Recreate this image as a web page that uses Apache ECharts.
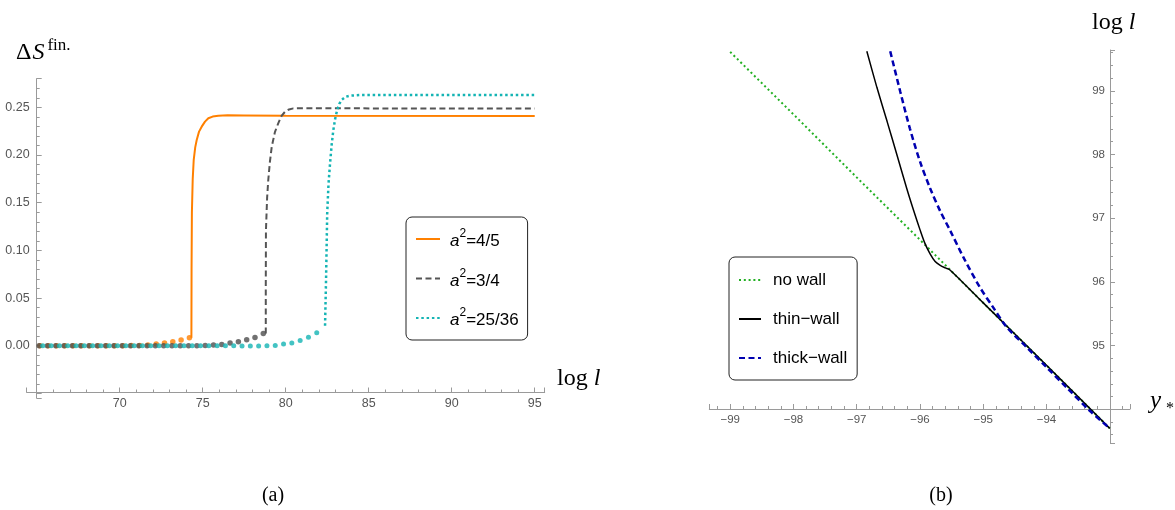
<!DOCTYPE html>
<html><head><meta charset="utf-8">
<script src="https://cdn.jsdelivr.net/npm/echarts@6/dist/echarts.min.js"></script>
<style>html,body{margin:0;padding:0;background:#fff}#c{width:1175px;height:510px}</style>
</head><body><div id="c"></div>
<script>
// ---------- Panel (a) data ----------
const orangeDots = [[65.2,0],[65.7,0],[66.2,0],[66.7,0],[67.2,0],[67.7,0],[68.2,0],[68.7,0],[69.2,0],[69.7,0],[70.2,0],[70.7,0.0002],[71.2,0.0003],[71.7,0.0007],[72.2,0.0018],[72.7,0.003],[73.2,0.0042],[73.7,0.006],[74.2,0.0084]];
const grayDots = [[65.15,0],[65.65,0],[66.15,0],[66.65,0],[67.15,0],[67.65,0],[68.15,0],[68.65,0],[69.15,0],[69.65,0],[70.15,0],[70.65,0],[71.15,0],[71.65,0],[72.15,0],[72.65,0],[73.15,0],[73.65,0],[74.15,0],[74.65,0],[75.15,0.0003],[75.65,0.0007],[76.15,0.0014],[76.65,0.0028],[77.15,0.0042],[77.65,0.0063],[78.15,0.0087],[78.65,0.0129]];
const tealDots = [[65.37,0],[65.87,0],[66.37,0],[66.87,0],[67.37,0],[67.87,0],[68.37,0],[68.87,0],[69.37,0],[69.87,0],[70.37,0],[70.87,0],[71.37,0],[71.87,0],[72.37,0],[72.87,0],[73.37,0],[73.87,0],[74.37,0],[74.87,0],[75.37,0],[75.87,0],[76.37,0],[76.87,0],[77.37,-0.0003],[77.87,-0.0003],[78.37,-0.0003],[78.87,0],[79.37,0.0003],[79.87,0.0017],[80.37,0.003],[80.87,0.0055],[81.37,0.0088],[81.87,0.0137]];
const orangeCurve = [[74.32,0.0084],[74.33,0.08],[74.35,0.14],[74.40,0.175],[74.46,0.195],[74.55,0.208],[74.64,0.2157],[74.78,0.2245],[74.94,0.2297],[75.14,0.235],[75.34,0.2385],[75.6,0.2403],[75.94,0.2412],[76.5,0.2416],[77.5,0.2415],[80,0.2411],[95,0.2409]];
const grayCurve = [[78.80,0.0129],[78.80,0.06],[78.81,0.121],[78.88,0.155],[78.95,0.1738],[79.05,0.193],[79.16,0.2087],[79.35,0.224],[79.55,0.2332],[79.75,0.241],[79.96,0.2454],[80.2,0.2478],[80.46,0.2489],[81,0.2491],[83,0.2489],[95,0.2488]];
const tealCurve = [[82.37,0.021],[82.43,0.069],[82.5,0.139],[82.58,0.17],[82.67,0.191],[82.77,0.211],[82.87,0.2262],[82.98,0.238],[83.1,0.2472],[83.23,0.2535],[83.37,0.2577],[83.6,0.261],[83.87,0.2622],[84.5,0.2629],[86,0.2629],[95,0.2628]];
const legendA = ['a2=4/5','a2=3/4','a2=25/36'];
const legendARich = {'a2=4/5':'{i|a}{s|2}{t|=4/5}','a2=3/4':'{i|a}{s|2}{t|=3/4}','a2=25/36':'{i|a}{s|2}{t|=25/36}'};

// ---------- Panel (b) data ----------
const noWall = [[-99,99.61],[-98,98.63],[-97,97.64],[-96,96.66],[-95,95.67],[-94,94.69],[-93,93.70]];
const thinWall = [[-96.84,99.62],[-96.68,99.05],[-96.52,98.52],[-96.36,97.98],[-96.21,97.47],[-96.1,97.12],[-96.0,96.82],[-95.92,96.6],[-95.84,96.44],[-95.76,96.32],[-95.68,96.26],[-95.6,96.22],[-95.53,96.19],[-95,95.67],[-94,94.69],[-93.0,93.70]];
const thickWall = [[-96.47,99.62],[-96.31,98.98],[-96.16,98.41],[-96.0,97.89],[-95.84,97.47],[-95.68,97.11],[-95.52,96.80],[-95.3,96.36],[-95.05,95.91],[-94.83,95.58],[-94.63,95.29],[-94.31,94.97],[-94.0,94.66],[-93.66,94.32],[-93.32,93.98],[-93.0,93.70]];
const legendB = ['no wall','thin\u2212wall','thick\u2212wall'];

// ---------- styling ----------
const AX = '#9a9a9a', LBL = '#555555';
const SANS = 'Liberation Sans, Arial, sans-serif';
const SERIF = 'Liberation Serif, Times New Roman, serif';
function axisCommon(extra){
  return Object.assign({
    type:'value',
    axisLine:{show:true,onZero:false,lineStyle:{color:AX,width:1}},
    axisTick:{show:true,inside:true,length:5,lineStyle:{color:AX}},
    minorTick:{show:true,splitNumber:5,length:3,lineStyle:{color:AX}},
    splitLine:{show:false},minorSplitLine:{show:false},
    showMinLabel:false, showMaxLabel:false
  }, extra);
}
const near = (v, step) => Math.abs(v/step - Math.round(v/step)) < 1e-6;
const serif = (size, italic, extra) => Object.assign({fontFamily:SERIF,fontSize:size,fontStyle:italic?'italic':'normal',fontWeight:'normal',color:'#000'}, extra||{});

const option = {
  animation:false,
  backgroundColor:'#fff',
  title:[
    {text:'{d|\u0394}{S|S}{f|fin.}', left:11, top:32, textStyle:{fontWeight:'normal',rich:{
      d:serif(24,false,{lineHeight:28,verticalAlign:'bottom'}),
      S:serif(24,true,{lineHeight:28,verticalAlign:'bottom',padding:[0,1,0,1]}),
      f:serif(17,false,{lineHeight:15,verticalAlign:'top',padding:[0,0,0,2]})}}},
    {text:'{a|log }{b|l}', left:552, top:362, textStyle:{fontWeight:'normal',rich:{a:serif(24,false), b:serif(24,true)}}},
    {text:'{a|log }{b|l}', left:1087, top:6, textStyle:{fontWeight:'normal',rich:{a:serif(24,false), b:serif(24,true)}}},
    {text:'y', left:1145, top:384, textStyle:serif(25,true)},
    {text:'*', left:1161, top:396, textStyle:serif(16,false)},
    {text:'(a)', left:268, top:481, textAlign:'center', textStyle:serif(20,false)},
    {text:'(b)', left:936, top:481, textAlign:'center', textStyle:serif(20,false)}
  ],
  grid:[
    {left:26.7, top:78.7, width:518, height:319.5},
    {left:709.3, top:50, width:420.7, height:393}
  ],
  xAxis:[
    axisCommon({gridIndex:0, min:64.4, max:95.6, minInterval:5, maxInterval:5, position:'bottom', offset:-5.7,
      axisLabel:{color:LBL,fontFamily:SANS,fontSize:12.5,margin:5,
        formatter:v=> (near(v,5) && Math.round(v)!==65) ? String(Math.round(v)) : ''}}),
    axisCommon({gridIndex:1, min:-99.33, max:-92.68, minInterval:1, maxInterval:1, position:'bottom', offset:-34,
      axisLabel:{color:LBL,fontFamily:SANS,fontSize:11.5,margin:5,
        formatter:v=> (near(v,1) && Math.round(v)!==-93) ? '\u2212'+Math.abs(Math.round(v)) : ''}})
  ],
  yAxis:[
    axisCommon({gridIndex:0, min:-0.055, max:0.28, minInterval:0.05, maxInterval:0.05, position:'left', offset:-10,
      axisLabel:{color:LBL,fontFamily:SANS,fontSize:12.5,margin:7,
        formatter:v=> (near(v,0.05) && v>-1e-9) ? v.toFixed(2) : ''}}),
    axisCommon({gridIndex:1, min:93.47, max:99.64, minInterval:1, maxInterval:1, position:'right', offset:-20,
      axisTick:{show:true,inside:false,length:5,lineStyle:{color:AX}},
      minorTick:{show:true,splitNumber:5,length:3,lineStyle:{color:AX}},
      axisLabel:{inside:true,color:LBL,fontFamily:SANS,fontSize:11.5,margin:5,
        formatter:v=> (near(v,1) && Math.round(v)!==94) ? String(Math.round(v)) : ''}})
  ],
  legend:[
    {orient:'vertical', left:406, top:217, data:legendA, itemWidth:24, itemHeight:14, itemGap:17.5,
     padding:[11,9,11,9], borderColor:'#222', borderWidth:1, borderRadius:6, backgroundColor:'#fff',
     itemStyle:{opacity:0}, selectedMode:false,
     formatter:n=>legendARich[n],
     textStyle:{fontFamily:SANS,fontSize:17,color:'#000',lineHeight:22,padding:[0,0,0,5],rich:{
       i:{fontFamily:SANS,fontSize:17,fontStyle:'italic',color:'#000',lineHeight:22,verticalAlign:'bottom'},
       s:{fontFamily:SANS,fontSize:12,color:'#000',lineHeight:12,verticalAlign:'top'},
       t:{fontFamily:SANS,fontSize:17,color:'#000',lineHeight:22,verticalAlign:'bottom'}}}},
    {orient:'vertical', left:729, top:257, data:legendB, itemWidth:22, itemHeight:14, itemGap:21,
     padding:[14,10,13,9], borderColor:'#222', borderWidth:1, borderRadius:6, backgroundColor:'#fff',
     itemStyle:{opacity:0}, selectedMode:false,
     textStyle:{fontFamily:SANS,fontSize:17,color:'#000',lineHeight:18,padding:[0,0,0,7]}}
  ],
  series:[
    {name:'oDots', type:'scatter', xAxisIndex:0, yAxisIndex:0, data:orangeDots, symbolSize:5.5, itemStyle:{color:'#FF8000'}, z:2},
    {name:'gDots', type:'scatter', xAxisIndex:0, yAxisIndex:0, data:grayDots, symbolSize:5.5, itemStyle:{color:'#4d4d4d'}, z:2},
    {name:'tDots', type:'scatter', xAxisIndex:0, yAxisIndex:0, data:tealDots, symbolSize:5, itemStyle:{color:'#14B4B4'}, z:2},
    {name:'a2=4/5', type:'line', xAxisIndex:0, yAxisIndex:0, data:orangeCurve, showSymbol:false, symbol:'none',
      lineStyle:{color:'#FF8000',width:2}, itemStyle:{color:'#FF8000'}, z:3},
    {name:'a2=3/4', type:'line', xAxisIndex:0, yAxisIndex:0, data:grayCurve, showSymbol:false, symbol:'none',
      lineStyle:{color:'#555555',width:2,type:[6,3.5]}, itemStyle:{color:'#555555'}, z:3},
    {name:'a2=25/36', type:'line', xAxisIndex:0, yAxisIndex:0, data:tealCurve, showSymbol:false, symbol:'none',
      lineStyle:{color:'#14B4B4',width:2.5,type:[2.5,2.8]}, itemStyle:{color:'#14B4B4'}, z:3},
    {name:'no wall', type:'line', xAxisIndex:1, yAxisIndex:1, data:noWall, showSymbol:false, symbol:'none',
      lineStyle:{color:'#22B022',width:2,type:[2,2.8]}, itemStyle:{color:'#22B022'}, z:3},
    {name:'thin\u2212wall', type:'line', xAxisIndex:1, yAxisIndex:1, data:thinWall, showSymbol:false, symbol:'none', smooth:0.3,
      lineStyle:{color:'#000',width:1.5}, itemStyle:{color:'#000'}, z:4},
    {name:'thick\u2212wall', type:'line', xAxisIndex:1, yAxisIndex:1, data:thickWall, showSymbol:false, symbol:'none', smooth:0.3,
      lineStyle:{color:'#0000B0',width:2.5,type:[6,3.5]}, itemStyle:{color:'#0000B0'}, z:5}
  ]
};
const chart = echarts.init(document.getElementById('c'), null, {renderer:'canvas'});
chart.setOption(option);
</script>
</body></html>
